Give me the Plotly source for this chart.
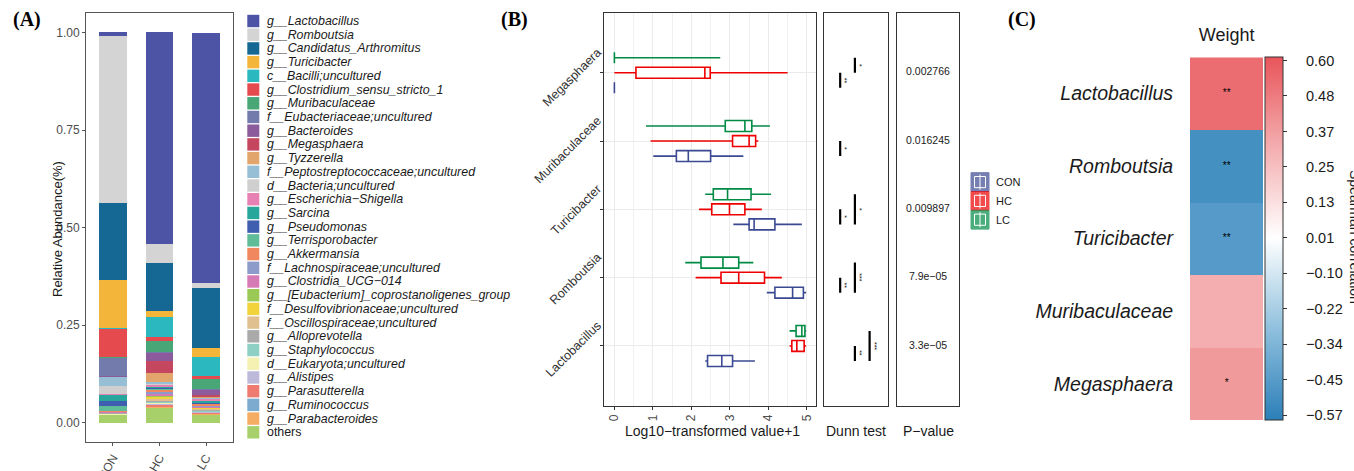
import plotly.graph_objects as go

W, H = 1354, 471
FONT = "Liberation Sans, Arial, sans-serif"


def fx(px):
    return px / W


def fy(py):
    return 1 - py / H


# ---------------- Panel A data ----------------
groups = ["CON", "HC", "LC"]
taxa = [
    "g__Lactobacillus", "g__Romboutsia", "g__Candidatus_Arthromitus", "g__Turicibacter",
    "c__Bacilli;uncultured", "g__Clostridium_sensu_stricto_1", "g__Muribaculaceae",
    "f__Eubacteriaceae;uncultured", "g__Bacteroides", "g__Megasphaera", "g__Tyzzerella",
    "f__Peptostreptococcaceae;uncultured", "d__Bacteria;uncultured", "g__Escherichia\u2212Shigella",
    "g__Sarcina", "g__Pseudomonas", "g__Terrisporobacter", "g__Akkermansia",
    "f__Lachnospiraceae;uncultured", "g__Clostridia_UCG\u2212014",
    "g__[Eubacterium]_coprostanoligenes_group", "f__Desulfovibrionaceae;uncultured",
    "f__Oscillospiraceae;uncultured", "g__Alloprevotella", "g__Staphylococcus",
    "d__Eukaryota;uncultured", "g__Alistipes", "g__Parasutterella", "g__Ruminococcus",
    "g__Parabacteroides", "others",
]
taxa_colors = [
    "#4E54A5", "#D4D4D4", "#156894", "#F4B53B", "#2BB9BF", "#E54B4E", "#49A677",
    "#737BAD", "#8B5B9C", "#C4465F", "#E2A56B", "#96BFD6", "#CFCFCF", "#E780B3",
    "#27A69B", "#3F5EAF", "#5FBC99", "#F0875E", "#8D9BCB", "#D67AB6", "#9BC955",
    "#F3D33C", "#E1C08F", "#AAAAAA", "#8FD0C4", "#F4F1B2", "#BDB9DA", "#EF7B70",
    "#7DAACF", "#F5AC63", "#A7D06B",
]
con_abund = [0.010, 0.4275, 0.198, 0.124, 0.0005, 0.072, 0.0034, 0.046, 0.0005, 0.0, 0.0005,
             0.024, 0.0205, 0.0026, 0.017, 0.0128, 0.0128, 0.0005, 0.001, 0.0015, 0.0005,
             0.0003, 0.0005, 0.002, 0.0005, 0.0003, 0.001, 0.0003, 0.0003, 0.0003, 0.0197]
hc_abund = [0.544, 0.047, 0.123, 0.016, 0.051, 0.010, 0.028, 0.002, 0.023, 0.030, 0.024,
            0.0017, 0.0026, 0.0051, 0.0043, 0.0017, 0.0026, 0.0077, 0.0026, 0.0043, 0.0043,
            0.0043, 0.0043, 0.0034, 0.0026, 0.0034, 0.0026, 0.0034, 0.0017, 0.0009, 0.0393]
lc_abund = [0.6435, 0.011, 0.155, 0.023, 0.049, 0.006, 0.026, 0.002, 0.015, 0.0026, 0.0026,
            0.0017, 0.0017, 0.0068, 0.0017, 0.0026, 0.0017, 0.0034, 0.0026, 0.0026, 0.0017,
            0.0026, 0.0017, 0.0034, 0.0017, 0.0009, 0.0026, 0.0017, 0.0009, 0.0009, 0.0214]
a_ticks = [0, 0.25, 0.5, 0.75, 1.0]
a_ticktext = ["0.00", "0.25", "0.50", "0.75", "1.00"]

# ---------------- Panel B data ----------------
genera_b = ["Lactobacillus", "Romboutsia", "Turicibacter", "Muribaculaceae", "Megasphaera"]
box_groups = ["CON", "HC", "LC"]
group_colors = {"CON": "#3B4992", "HC": "#EE0000", "LC": "#008B45"}
con_lo = [2.36, 3.96, 3.09, 1.01, 0.0]
con_q1 = [2.42, 4.17, 3.50, 1.61, 0.0]
con_med = [2.79, 4.63, 3.63, 1.92, 0.0]
con_q3 = [3.07, 4.91, 4.17, 2.50, 0.0]
con_hi = [3.65, 4.98, 4.87, 3.35, 0.0]
hc_lo = [4.55, 2.11, 2.20, 0.94, 0.0]
hc_q1 = [4.61, 2.77, 2.53, 3.07, 0.56]
hc_med = [4.74, 3.23, 2.99, 3.50, 2.35]
hc_q3 = [4.93, 3.90, 3.39, 3.67, 2.49]
hc_hi = [4.98, 4.35, 3.83, 3.74, 4.50]
lc_lo = [4.55, 1.84, 2.36, 0.82, 0.0]
lc_q1 = [4.72, 2.25, 2.57, 2.88, 0.0]
lc_med = [4.87, 2.82, 2.94, 3.39, 0.0]
lc_q3 = [4.95, 3.23, 3.55, 3.57, 0.0]
lc_hi = [4.98, 3.61, 4.07, 4.04, 2.75]
p_values = ["3.3e\u221205", "7.9e\u221205", "0.009897", "0.016245", "0.002766"]
b_xticks = [0, 1, 2, 3, 4, 5]

dunn_genus = ["Megasphaera", "Megasphaera", "Muribaculaceae", "Turicibacter", "Turicibacter",
              "Romboutsia", "Romboutsia", "Lactobacillus", "Lactobacillus"]
dunn_a = ["HC", "LC", "HC", "HC", "LC", "HC", "LC", "HC", "LC"]
dunn_b = ["CON", "HC", "CON", "CON", "CON", "CON", "CON", "CON", "CON"]
dunn_level = [1, 2, 1, 1, 2, 1, 2, 2, 3]
dunn_sig = ["**", "*", "*", "*", "*", "**", "***", "**", "***"]

# ---------------- Panel C data ----------------
heat_genus = ["Lactobacillus", "Romboutsia", "Turicibacter", "Muribaculaceae", "Megasphaera"]
heat_r = [0.53, -0.51, -0.46, 0.31, 0.38]
heat_sig = ["**", "**", "**", "", "*"]
cb_tickvals = [0.60, 0.483, 0.366, 0.249, 0.132, 0.015, -0.102, -0.219, -0.336, -0.453, -0.57]
cb_ticktext = ["0.60", "0.48", "0.37", "0.25", "0.13", "0.01", "\u22120.10", "\u22120.22",
               "\u22120.34", "\u22120.45", "\u22120.57"]

fig = go.Figure()

# ---- Panel A stacked bars (first legend item on top) ----
for name, col, c, h, l in reversed(list(zip(taxa, taxa_colors, con_abund, hc_abund, lc_abund))):
    fig.add_trace(go.Bar(x=groups, y=[c, h, l], name=name, width=0.6,
                         marker=dict(color=col, line=dict(width=0)),
                         showlegend=False, xaxis="x", yaxis="y"))

# ---- Panel B boxplots ----
offsets = {"CON": -0.22, "HC": 0.0, "LC": 0.22}
stats = {
    "CON": (con_lo, con_q1, con_med, con_q3, con_hi),
    "HC": (hc_lo, hc_q1, hc_med, hc_q3, hc_hi),
    "LC": (lc_lo, lc_q1, lc_med, lc_q3, lc_hi),
}
for g in box_groups:
    lo, q1, md, q3, hi = stats[g]
    pos = [i + 1 + offsets[g] for i in range(len(genera_b))]
    fig.add_trace(go.Box(y=pos, q1=q1, median=md, q3=q3, lowerfence=lo, upperfence=hi,
                         orientation="h", width=0.16, whiskerwidth=0, boxpoints=False,
                         line=dict(color=group_colors[g], width=1.6), fillcolor="white",
                         name=g, showlegend=False, xaxis="x2", yaxis="y2"))

# ---- Dunn test brackets ----
dx, dy = [], []
annotations = []
for gen, a, b, lev, sig in zip(dunn_genus, dunn_a, dunn_b, dunn_level, dunn_sig):
    k = genera_b.index(gen) + 1
    ya, yb = k + offsets[a], k + offsets[b]
    dx += [lev, lev, None]
    dy += [ya, yb, None]
    annotations.append(dict(x=lev + 0.3, y=(ya + yb) / 2, xref="x3", yref="y3", text=sig,
                            showarrow=False, textangle=90,
                            font=dict(size=7, color="black", family=FONT)))
fig.add_trace(go.Scatter(x=dx, y=dy, mode="lines", line=dict(color="black", width=2.2),
                         showlegend=False, xaxis="x3", yaxis="y3", hoverinfo="skip"))

# ---- P-values ----
fig.add_trace(go.Scatter(x=[0.5] * len(genera_b), y=list(range(1, len(genera_b) + 1)),
                         text=p_values, mode="text",
                         textfont=dict(size=10.5, color="#1A1A1A", family=FONT),
                         showlegend=False, xaxis="x4", yaxis="y4"))

# ---- Panel C heatmap ----
pad = "\u00a0" * 4
fig.add_trace(go.Heatmap(
    z=[[v] for v in heat_r], x=["Weight"], y=heat_genus,
    zmin=-0.586, zmax=0.611,
    colorscale=[[0, "#2B7FB8"], [0.25, "#8FC0DD"], [0.502, "#FFFFFF"], [0.75, "#F4AEB0"], [1, "#E8555A"]],
    xaxis="x5", yaxis="y5",
    colorbar=dict(x=fx(1264.5), xanchor="left", xref="paper", y=fy((57.3 + 420) / 2),
                  yanchor="middle", len=(420 - 57.3) / H, lenmode="fraction",
                  thickness=18, xpad=0, ypad=0, outlinewidth=1, outlinecolor="#333",
                  tickvals=cb_tickvals, ticktext=[pad + t for t in cb_ticktext],
                  ticks="outside", ticklen=4,
                  tickcolor="#333", tickfont=dict(size=14.5, color="#1A1A1A", family=FONT)),
))
fig.add_trace(go.Scatter(x=["Weight"] * len(heat_genus), y=heat_genus, text=heat_sig,
                         mode="text", textfont=dict(size=10, color="black", family=FONT),
                         showlegend=False, xaxis="x5", yaxis="y5", hoverinfo="skip"))

# ---- Panel A manual legend ----
shapes = []
for i, (name, col) in enumerate(zip(taxa, taxa_colors)):
    yc = 21 + i * 13.71
    shapes.append(dict(type="rect", xref="paper", yref="paper", x0=fx(247.3), x1=fx(259.3),
                       y0=fy(yc + 6.2), y1=fy(yc - 6.2), fillcolor=col, line=dict(width=0)))
    label = name if name == "others" else "<i>" + name + "</i>"
    annotations.append(dict(x=fx(265), y=fy(yc), xref="paper", yref="paper", text=label,
                            showarrow=False, xanchor="left", yanchor="middle",
                            font=dict(size=12.4, color="#1A1A1A", family=FONT)))

# ---- Panel B manual legend ----
for i, g in enumerate(box_groups):
    y0 = 172.7 + i * 18.8
    col = group_colors[g]
    shapes.append(dict(type="rect", xref="paper", yref="paper", x0=fx(971), x1=fx(989),
                       y0=fy(y0 + 18.8), y1=fy(y0), fillcolor=col, opacity=0.7,
                       line=dict(color=col, width=1)))
    shapes.append(dict(type="rect", xref="paper", yref="paper", x0=fx(974.5), x1=fx(985.5),
                       y0=fy(y0 + 15), y1=fy(y0 + 3.8), fillcolor="rgba(0,0,0,0)",
                       line=dict(color="white", width=1)))
    shapes.append(dict(type="line", xref="paper", yref="paper", x0=fx(980), x1=fx(980),
                       y0=fy(y0 + 17), y1=fy(y0 + 1.8), line=dict(color="white", width=1)))
    annotations.append(dict(x=fx(994), y=fy(y0 + 9.4), xref="paper", yref="paper", text=g,
                            showarrow=False, xanchor="left", yanchor="middle",
                            font=dict(size=11, color="#1A1A1A", family=FONT)))

# ---- Titles and panel labels ----
def ann(x, y, text, size, angle=0, xanchor="center", color="#1A1A1A", family=FONT):
    annotations.append(dict(x=fx(x), y=fy(y), xref="paper", yref="paper", text=text,
                            showarrow=False, textangle=angle, xanchor=xanchor,
                            yanchor="middle", font=dict(size=size, color=color, family=family)))


ann(57, 229, "Relative Abundance(%)", 13, angle=-90)
ann(712, 431, "Log10\u2212transformed value+1", 14)
ann(856, 431, "Dunn test", 14)
ann(928, 431, "P\u2212value", 14)
ann(1355, 237, "Spearman correlation", 14, angle=90)
serif = "Liberation Serif, Times New Roman, serif"
ann(27, 20, "<b>(A)</b>", 20, family=serif, color="black")
ann(514, 20, "<b>(B)</b>", 20, family=serif, color="black")
ann(1022, 20, "<b>(C)</b>", 20, family=serif, color="black")

tickfont = dict(size=12, color="#4D4D4D", family=FONT)
grid = "#EBEBEB"

fig.update_layout(
    width=W, height=H,
    margin=dict(l=0, r=0, t=0, b=0, autoexpand=False),
    paper_bgcolor="white", plot_bgcolor="white",
    barmode="stack", boxmode="overlay", showlegend=False,
    font=dict(family=FONT),
    shapes=shapes, annotations=annotations,
    xaxis=dict(domain=[fx(86), fx(233)], anchor="y", range=[-0.58, 2.58],
               showline=True, mirror=True, linecolor="#555", linewidth=1,
               ticks="outside", ticklen=3, tickcolor="#555", tickangle=-60,
               tickfont=tickfont, showgrid=False, zeroline=False),
    yaxis=dict(domain=[fy(442), fy(13)], anchor="x", range=[-0.05, 1.05],
               tickvals=a_ticks, ticktext=a_ticktext,
               showline=True, mirror=True, linecolor="#555", linewidth=1,
               ticks="outside", ticklen=3, tickcolor="#555",
               tickfont=tickfont, showgrid=False, zeroline=False),
    xaxis2=dict(domain=[fx(604), fx(815.7)], anchor="y2", range=[-0.27, 5.23],
                tickvals=b_xticks, tickangle=-90, tickfont=tickfont,
                showline=True, mirror=True, linecolor="#333", linewidth=1,
                ticks="outside", ticklen=3, tickcolor="#333",
                showgrid=True, gridcolor=grid, gridwidth=1, zeroline=False,
                minor=dict(dtick=0.5, tick0=0, showgrid=True, gridcolor="#F0F0F0", gridwidth=1)),
    yaxis2=dict(domain=[fy(405.7), fy(13)], anchor="x2", range=[0.125, 5.875],
                tickvals=list(range(1, len(genera_b) + 1)), ticktext=genera_b,
                tickangle=-45, tickfont=dict(size=12.5, color="#333", family=FONT),
                ticklabelshift=-22,
                showline=True, mirror=True, linecolor="#333", linewidth=1,
                ticks="outside", ticklen=3, tickcolor="#333",
                showgrid=True, gridcolor=grid, gridwidth=1.2, zeroline=False),
    xaxis3=dict(domain=[fx(824), fx(888)], anchor="y3", range=[-0.1, 4.25],
                showticklabels=False, ticks="", showgrid=False, zeroline=False,
                showline=True, mirror=True, linecolor="#333", linewidth=1),
    yaxis3=dict(domain=[fy(405.7), fy(13)], anchor="x3", range=[0.125, 5.875],
                showticklabels=False, ticks="", showgrid=False, zeroline=False,
                showline=True, mirror=True, linecolor="#333", linewidth=1),
    xaxis4=dict(domain=[fx(897), fx(959)], anchor="y4", range=[0, 1],
                showticklabels=False, ticks="", showgrid=False, zeroline=False,
                showline=True, mirror=True, linecolor="#333", linewidth=1),
    yaxis4=dict(domain=[fy(405.7), fy(13)], anchor="x4", range=[0.125, 5.875],
                showticklabels=False, ticks="", showgrid=False, zeroline=False,
                showline=True, mirror=True, linecolor="#333", linewidth=1),
    xaxis5=dict(domain=[fx(1190), fx(1263.3)], anchor="y5", side="top",
                tickfont=dict(size=18, color="#1A1A1A", family=FONT),
                ticks="outside", ticklen=8, tickcolor="rgba(0,0,0,0)",
                showline=False, showgrid=False, zeroline=False),
    yaxis5=dict(domain=[fy(420), fy(57.3)], anchor="x5", autorange="reversed",
                tickvals=heat_genus, ticktext=["<i>" + g + "</i>" for g in heat_genus],
                tickfont=dict(size=19.5, color="#1A1A1A", family=FONT),
                ticks="outside", ticklen=12, tickcolor="rgba(0,0,0,0)",
                showline=False, showgrid=False, zeroline=False),
)

fig.write_html("out.html", config={"displayModeBar": False},
               post_script="document.body.style.margin='0px';")
